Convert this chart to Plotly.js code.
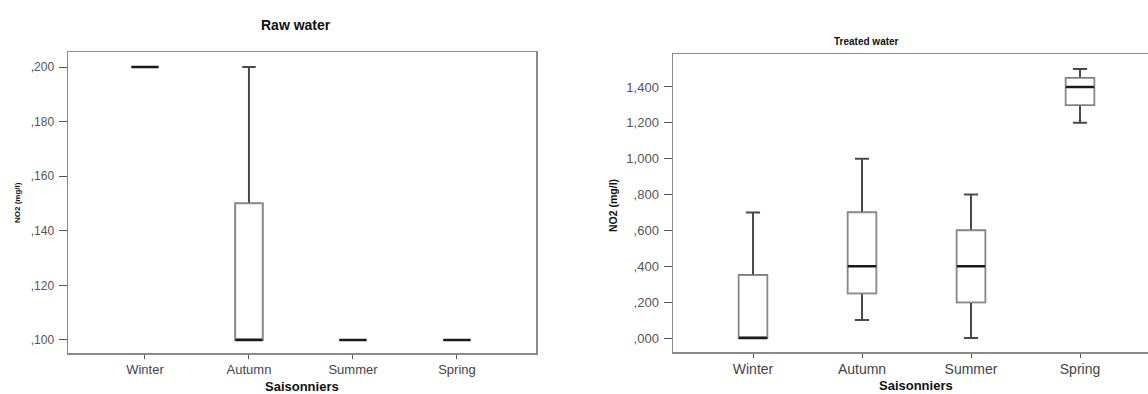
<!DOCTYPE html>
<html>
<head>
<meta charset="utf-8">
<script src="https://cdn.plot.ly/plotly-3.0.1.min.js"></script>
<style>
  html, body { margin: 0; padding: 0; background: #fff; overflow: hidden; }
  #chart { width: 1160px; height: 394px; }
</style>
</head>
<body>
<div id="chart"></div>
<script>
// ---- Data ----
const categories = ['Winter', 'Autumn', 'Summer', 'Spring'];

// Raw water NO2 (mg/l)
const rawMin    = [0.20, 0.10, 0.10, 0.10];
const rawQ1     = [0.20, 0.10, 0.10, 0.10];
const rawMedian = [0.20, 0.10, 0.10, 0.10];
const rawQ3     = [0.20, 0.15, 0.10, 0.10];
const rawMax    = [0.20, 0.20, 0.10, 0.10];

// Treated water NO2 (mg/l)
const trMin    = [0.00, 0.10, 0.00, 1.20];
const trQ1     = [0.00, 0.25, 0.20, 1.30];
const trMedian = [0.00, 0.40, 0.40, 1.40];
const trQ3     = [0.35, 0.70, 0.60, 1.45];
const trMax    = [0.70, 1.00, 0.80, 1.50];

const rawTickVals = [0.10, 0.12, 0.14, 0.16, 0.18, 0.20];
const rawTickText = [',100', ',120', ',140', ',160', ',180', ',200'];
const trTickVals  = [0, 0.2, 0.4, 0.6, 0.8, 1.0, 1.2, 1.4];
const trTickText  = [',000', ',200', ',400', ',600', ',800', '1,000', '1,200', '1,400'];

// ---- Layout geometry ----
const W = 1160, H = 394;
const px = v => v / W;
const py = v => (H - v) / H;
const FONT = 'Liberation Sans, Arial, sans-serif';
const BOXW = 0.26;

function boxSet(q1, med, q3, lo, hi, xa, ya) {
  const common = { type: 'box', x: categories, xaxis: xa, yaxis: ya, width: BOXW,
                   hoverinfo: 'skip', showlegend: false, boxpoints: false };
  return [
    // whiskers + caps
    Object.assign({}, common, { q1: q1, median: med, q3: q3, lowerfence: lo, upperfence: hi,
      line: { color: '#4a4a4a', width: 2 }, fillcolor: '#ffffff', whiskerwidth: 0.5 }),
    // box outline (lighter)
    Object.assign({}, common, { q1: q1, median: med, q3: q3, lowerfence: q1, upperfence: q3,
      line: { color: '#8c8c8c', width: 1.5 }, fillcolor: '#ffffff', whiskerwidth: 0 }),
    // median (thick dark)
    Object.assign({}, common, { q1: med, median: med, q3: med, lowerfence: med, upperfence: med,
      line: { color: '#1a1a1a', width: 2.5 }, fillcolor: 'rgba(0,0,0,0)', whiskerwidth: 0 })
  ];
}

const traces = [].concat(
  boxSet(rawQ1, rawMedian, rawQ3, rawMin, rawMax, 'x', 'y'),
  boxSet(trQ1, trMedian, trQ3, trMin, trMax, 'x2', 'y2')
);

const axisCommon = {
  showline: true, linecolor: '#8a8a8a', linewidth: 1.5, mirror: true,
  showgrid: false, zeroline: false, fixedrange: true,
  ticks: 'outside', tickcolor: '#555'
};

const layout = {
  width: W, height: H,
  margin: { l: 0, r: 0, t: 0, b: 0 },
  paper_bgcolor: '#ffffff', plot_bgcolor: '#ffffff',
  boxmode: 'overlay',
  showlegend: false,
  font: { family: FONT, color: '#444' },
  xaxis: Object.assign({}, axisCommon, {
    domain: [px(68), px(536)], anchor: 'y', type: 'category',
    range: [-0.74, 3.76], ticklen: 4,
    tickfont: { family: FONT, size: 13, color: '#444' }
  }),
  yaxis: Object.assign({}, axisCommon, {
    domain: [py(353), py(52)], anchor: 'x',
    range: [0.0952, 0.2055], tickvals: rawTickVals, ticktext: rawTickText, ticklen: 8,
    ticklabelstandoff: 2,
    tickfont: { family: FONT, size: 12, color: '#555' }
  }),
  xaxis2: Object.assign({}, axisCommon, {
    domain: [px(673), 1], anchor: 'y2', type: 'category',
    range: [-0.734, 3.734], ticklen: 4,
    tickfont: { family: FONT, size: 14, color: '#444' }
  }),
  yaxis2: Object.assign({}, axisCommon, {
    domain: [py(352), py(54)], anchor: 'x2',
    range: [-0.078, 1.584], tickvals: trTickVals, ticktext: trTickText, ticklen: 8,
    ticklabelstandoff: 2,
    tickfont: { family: FONT, size: 13, color: '#555' }
  }),
  annotations: [
    { text: '<b>Raw water</b>', x: px(296), y: py(25), xref: 'paper', yref: 'paper',
      xanchor: 'center', yanchor: 'middle', showarrow: false,
      font: { family: FONT, size: 14, color: '#111' } },
    { text: '<b>Treated water</b>', x: px(866), y: py(42), xref: 'paper', yref: 'paper',
      xanchor: 'center', yanchor: 'middle', showarrow: false,
      font: { family: FONT, size: 10, color: '#111' } },
    { text: '<b>NO2 (mg/l)</b>', x: px(18), y: py(203), xref: 'paper', yref: 'paper',
      xanchor: 'center', yanchor: 'middle', textangle: -90, showarrow: false,
      font: { family: FONT, size: 8, color: '#111' } },
    { text: '<b>NO2 (mg/l)</b>', x: px(613), y: py(206), xref: 'paper', yref: 'paper',
      xanchor: 'center', yanchor: 'middle', textangle: -90, showarrow: false,
      font: { family: FONT, size: 10.5, color: '#111' } },
    { text: '<b>Saisonniers</b>', x: px(302), y: py(386), xref: 'paper', yref: 'paper',
      xanchor: 'center', yanchor: 'middle', showarrow: false,
      font: { family: FONT, size: 13, color: '#111' } },
    { text: '<b>Saisonniers</b>', x: px(916), y: py(385), xref: 'paper', yref: 'paper',
      xanchor: 'center', yanchor: 'middle', showarrow: false,
      font: { family: FONT, size: 13, color: '#111' } }
  ]
};

Plotly.newPlot('chart', traces, layout, { displayModeBar: false, staticPlot: true });
</script>
</body>
</html>
